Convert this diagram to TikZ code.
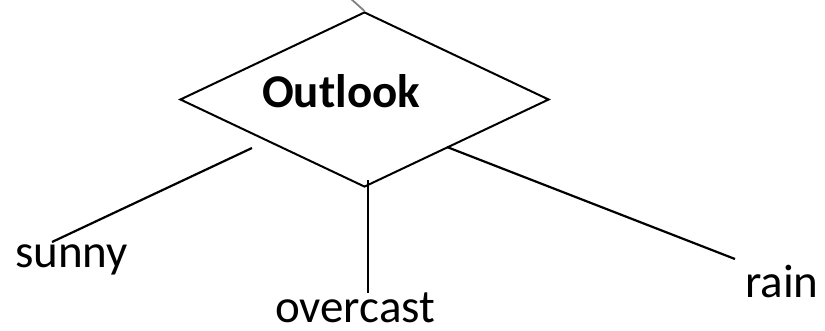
\documentclass[tikz,border=0pt]{standalone}
\usepackage{fontspec}
\setmainfont{Carlito}
\usetikzlibrary{shapes.geometric}
\begin{document}
\begin{tikzpicture}[x=1pt,y=-1pt,
  lbl/.style={inner sep=0pt,anchor=base west,font=\fontsize{47}{50}\selectfont},
  edge/.style={line width=2.2pt,black},
  dia/.style={draw,line width=2pt,shape=diamond,minimum width=369pt,minimum height=175pt,inner sep=0pt}]
\useasboundingbox (0,0) rectangle (825,330);
\node[dia] (d) at (364.5,99.5) {};
\node[lbl,font=\bfseries\fontsize{47}{50}\selectfont] (t) at (262,107) {Outlook};
\coordinate (top) at (350,-2);
\draw[gray,line width=1.8pt] (top) -- (d.north);
\node[lbl] (s) at (15,267) {sunny};
\node[lbl] (o) at (275,322) {overcast};
\node[lbl] (r) at (745,297) {rain};
\coordinate (s1) at (252,148);
\coordinate (s2) at (52,242);
\coordinate (o1) at (368,180);
\coordinate (o2) at (368,293);
\coordinate (r1) at (447,147);
\coordinate (r2) at (735,259);
\draw[edge] (s1) -- (s2);
\draw[edge] (o1) -- (o2);
\draw[edge] (r1) -- (r2);
\end{tikzpicture}
\end{document}
